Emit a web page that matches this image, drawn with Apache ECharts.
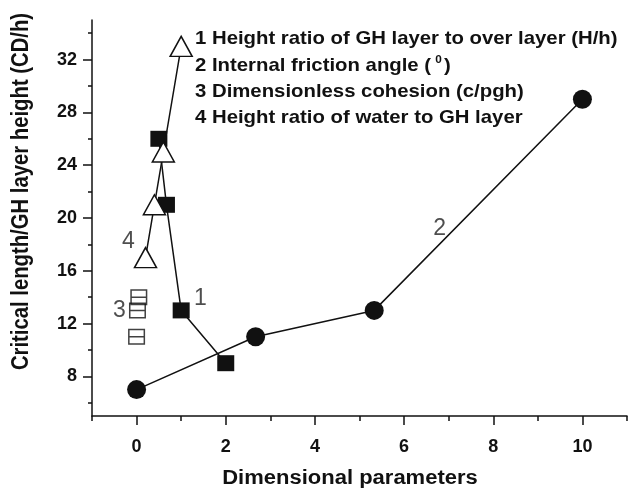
<!DOCTYPE html>
<html>
<head>
<meta charset="utf-8">
<script src="https://cdn.jsdelivr.net/npm/echarts@6/dist/echarts.min.js"></script>
<style>html,body{margin:0;padding:0;background:#fff}#c{width:628px;height:490px}</style>
</head>
<body>
<div id="c"></div>
<script>
// ---- data ----
var xTickLabels = [0, 2, 4, 6, 8, 10];
var yTickLabels = [8, 12, 16, 20, 24, 28, 32];
var xMinorTicks = [-1, 0, 1, 2, 3, 4, 5, 6, 7, 8, 9, 10, 11];
var yMinorTicks = [6, 8, 10, 12, 14, 16, 18, 20, 22, 24, 26, 28, 30, 32, 34];

var s1X = [0.5, 0.67, 1, 2];
var s1Y = [26, 21, 13, 9];
var s2X = [0, 2.67, 5.33, 10];
var s2Y = [7, 11, 13, 29];
var s3X = [0.05, 0.02, 0];
var s3Y = [14, 13, 11];
var s4X = [0.2, 0.4, 0.6, 1];
var s4Y = [17, 21, 25, 33];

var annotText = ['1', '2', '3', '4'];
var annotX = [1.43, 6.8, -0.385, -0.183];
var annotY = [13.9, 19.2, 12.98, 18.19];

var legendLines = [
  '1 Height ratio of GH layer to over layer (H/h)',
  '2 Internal friction angle ({s|0})',
  '3 Dimensionless cohesion (c/pgh)',
  '4 Height ratio of water to GH layer'
];
var xTitle = 'Dimensional parameters';
var yTitle = 'Critical length/GH layer height (CD/h)';

function pairs(xs, ys) { return xs.map(function (x, i) { return [x, ys[i]]; }); }

var FONT = "'Liberation Sans', Arial, sans-serif";
var INK = '#111';

var chart = echarts.init(document.getElementById('c'), null, {renderer: 'canvas'});

var openSq = 'path://M0,0H17V16H0Z M1.5,1.5V7.25H15.5V1.5Z M1.5,8.75V14.5H15.5V8.75Z';

var graphics = [];
var legendY = [38.7, 65.3, 92, 117.5];
legendLines.forEach(function (t, i) {
  graphics.push({
    type: 'text', x: 195, y: legendY[i], scaleX: 1.07, z: 10,
    style: {
      text: t, fill: INK, fontFamily: FONT, fontWeight: 'bold', fontSize: 19,
      textAlign: 'left', textVerticalAlign: 'middle',
      rich: { s: { fontSize: 11, fontWeight: 'bold', fontFamily: FONT, fill: INK, verticalAlign: 'top', padding: [0, 2, 10, 4] } }
    }
  });
});
graphics.push({
  type: 'text', x: 350, y: 478, scaleX: 1.1, z: 10,
  style: { text: xTitle, fill: INK, fontFamily: FONT, fontWeight: 'bold', fontSize: 20, textAlign: 'center', textVerticalAlign: 'middle' }
});
graphics.push({
  type: 'text', x: 21, y: 191.5, rotation: Math.PI / 2, scaleY: 1.18, z: 10,
  style: { text: yTitle, fill: INK, fontFamily: FONT, fontWeight: 'bold', fontSize: 20.3, textAlign: 'center', textVerticalAlign: 'middle' }
});

var option = {
  animation: false,
  backgroundColor: '#fff',
  grid: { left: 92, right: 1, top: 20, bottom: 74, containLabel: false },
  xAxis: [
    {
      type: 'value', min: -1, max: 11, interval: 1, position: 'bottom',
      axisLine: { show: true, onZero: false, lineStyle: { color: INK, width: 1.5 } },
      axisTick: { show: true, inside: false, length: 5, customValues: xMinorTicks, lineStyle: { color: INK, width: 1.5 } },
      axisLabel: { show: true, customValues: xTickLabels, margin: 22, color: INK, fontFamily: FONT, fontWeight: 'bold', fontSize: 18 },
      splitLine: { show: false }
    },
    {
      type: 'value', min: -1, max: 11, interval: 1, position: 'bottom',
      axisLine: { show: false, onZero: false },
      axisTick: { show: true, inside: false, length: 9, customValues: xTickLabels, lineStyle: { color: INK, width: 1.5 } },
      axisLabel: { show: false },
      splitLine: { show: false }
    }
  ],
  yAxis: [
    {
      type: 'value', min: 5, max: 35, position: 'left',
      axisLine: { show: true, onZero: false, lineStyle: { color: INK, width: 1.5 } },
      axisTick: { show: true, inside: false, length: 4, customValues: yMinorTicks, lineStyle: { color: INK, width: 1.5 } },
      axisLabel: { show: true, customValues: yTickLabels, margin: 15, color: INK, fontFamily: FONT, fontWeight: 'bold', fontSize: 18 },
      splitLine: { show: false }
    },
    {
      type: 'value', min: 5, max: 35, position: 'left',
      axisLine: { show: false, onZero: false },
      axisTick: { show: true, inside: false, length: 9, customValues: yTickLabels, lineStyle: { color: INK, width: 1.5 } },
      axisLabel: { show: false },
      splitLine: { show: false }
    }
  ],
  graphic: graphics,
  series: [
    {
      type: 'line', name: '2', data: pairs(s2X, s2Y), z: 2,
      symbol: 'circle', symbolSize: 19,
      itemStyle: { color: INK },
      lineStyle: { color: INK, width: 1.5 }
    },
    {
      type: 'line', name: '1', data: pairs(s1X, s1Y), z: 3,
      symbol: 'rect', symbolSize: [17, 16],
      itemStyle: { color: INK },
      lineStyle: { color: INK, width: 1.5 }
    },
    {
      type: 'scatter', name: '3', data: pairs(s3X, s3Y), z: 4,
      symbol: openSq, symbolSize: [17, 16],
      itemStyle: { color: INK }
    },
    {
      type: 'line', name: '4', data: pairs(s4X, s4Y), z: 5,
      symbol: 'triangle', symbolSize: [22, 20],
      itemStyle: { color: '#fff', borderColor: INK, borderWidth: 1.5 },
      lineStyle: { color: INK, width: 1.5 }
    },
    {
      type: 'scatter', name: 'annot', z: 6, symbolSize: 0,
      data: annotText.map(function (t, i) { return { name: t, value: [annotX[i], annotY[i]] }; }),
      label: { show: true, position: 'inside', formatter: '{b}', color: '#222', fontFamily: FONT, fontSize: 23 }
    }
  ]
};
chart.setOption(option);
</script>
</body>
</html>
